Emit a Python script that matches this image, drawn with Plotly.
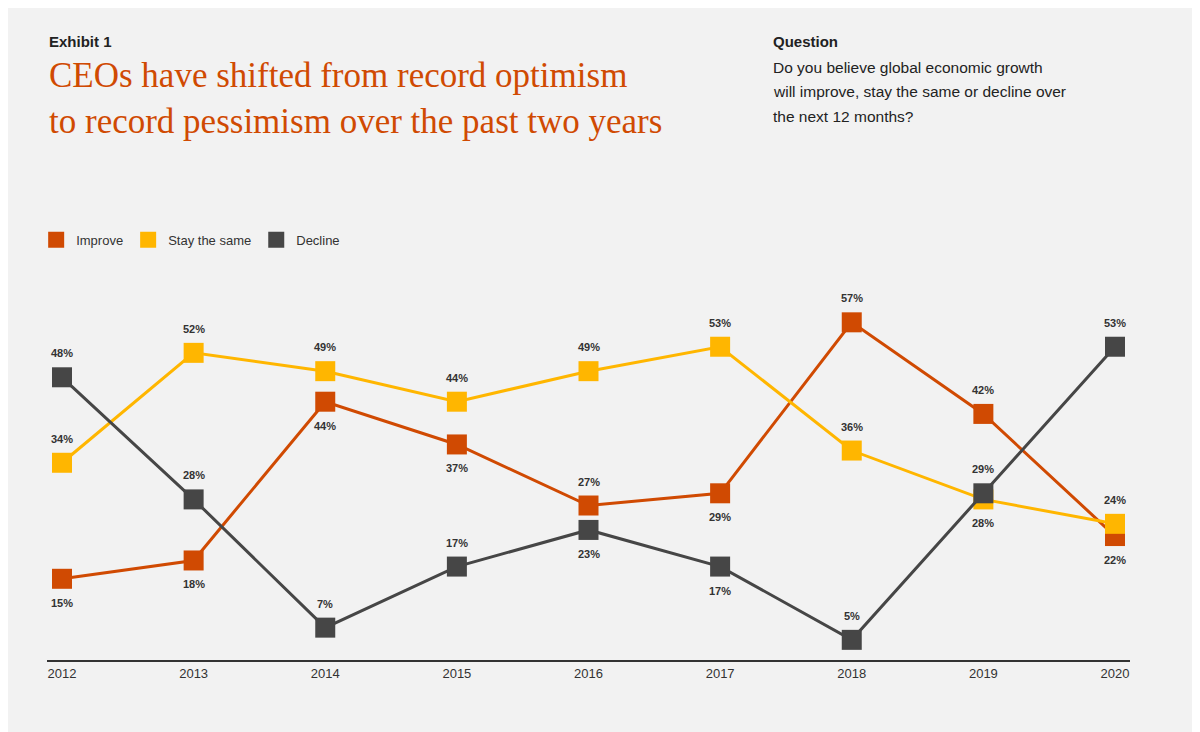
import plotly.graph_objects as go

years = [2012, 2013, 2014, 2015, 2016, 2017, 2018, 2019, 2020]
improve = [15, 18, 44, 37, 27, 29, 57, 42, 22]
stay = [34, 52, 49, 44, 49, 53, 36, 28, 24]
decline = [48, 28, 7, 17, 23, 17, 5, 29, 53]
improve_pos = ["b", "b", "b", "b", "t", "b", "t", "t", "b"]
stay_pos = ["t", "t", "t", "t", "t", "t", "t", "b", "t"]
decline_pos = ["t", "t", "t", "t", "b", "b", "t", "t", "t"]

series = [("Improve", improve, improve_pos, "#d04a02"),
          ("Stay the same", stay, stay_pos, "#ffb600"),
          ("Decline", decline, decline_pos, "#464646")]

fig = go.Figure()
for name, vals, pos, col in series:
    fig.add_trace(go.Scatter(x=years, y=vals, mode="lines+markers", showlegend=False,
                             line=dict(color=col, width=3),
                             marker=dict(symbol="square", size=20, color=col)))
for name, vals, pos, col in series:
    fig.add_trace(go.Scatter(x=[None], y=[None], mode="markers", name=name,
                             marker=dict(symbol="square", size=18, color=col)))
    for x, v, p in zip(years, vals, pos):
        fig.add_annotation(x=x, y=v, text=f"<b>{v}%</b>", showarrow=False,
                           yshift=24 if p == "t" else -24,
                           font=dict(size=11, color="#333", family="Liberation Sans"))

def txt(x, y, t, size, color="#222", family="Liberation Sans"):
    fig.add_annotation(xref="paper", yref="paper", x=x, y=y, xanchor="left", yanchor="middle",
                       text=t, showarrow=False, align="left",
                       font=dict(size=size, color=color, family=family))

txt(0, 1.736, "<b>Exhibit 1</b>", 15)
txt(0, 1.576, "CEOs have shifted from record optimism<br>to record pessimism over the past two years",
    35, "#d04a02", "Liberation Serif")
txt(0.6685, 1.736, "<b>Question</b>", 15)
for yy, line in zip([1.663, 1.596, 1.528],
                    ["Do you believe global economic growth",
                     "will improve, stay the same or decline over",
                     "the next 12 months?"]):
    txt(0.6685, yy, line, 15.5)

fig.update_layout(
    width=1200, height=732,
    paper_bgcolor="#f2f2f2", plot_bgcolor="#f2f2f2",
    margin=dict(l=39, r=78, t=296, b=80),
    font=dict(family="Liberation Sans", color="#333"),
    legend=dict(orientation="h", x=-0.01, y=1.18, xanchor="left", yanchor="middle",
                font=dict(size=13, color="#333"), itemwidth=30, bgcolor="rgba(0,0,0,0)"),
    xaxis=dict(range=[2011.886, 2020.114], tickvals=years, showgrid=False, zeroline=False,
               showline=True, linecolor="#333", linewidth=2, ticks="", ticklen=0,
               tickfont=dict(size=13, color="#333")),
    yaxis=dict(range=[1.7, 60], visible=False),
)
fig.write_html("out.html")
